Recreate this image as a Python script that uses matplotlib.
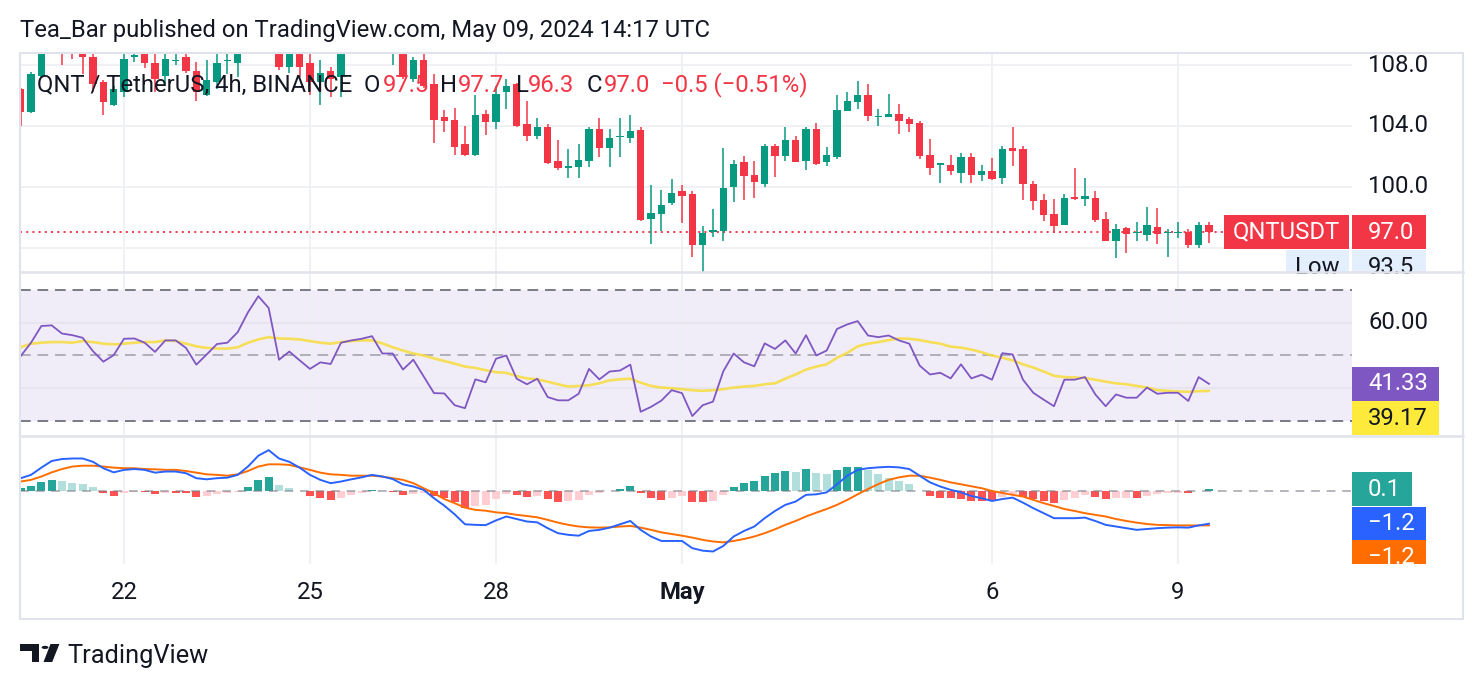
import numpy as np
import matplotlib
matplotlib.use("Agg")
import matplotlib.pyplot as plt
from matplotlib.patches import Rectangle, Polygon, Circle
from matplotlib.lines import Line2D

plt.rcParams['font.family'] = ['Roboto', 'DejaVu Sans']

# 4h candles, Apr 20 08:00 -> May 9 12:00 (UTC)
open_ = [106.4, 104.9, 107.3, 109.2, 109.3, 108.95, 108.8, 108.5, 106.9, 105.4,
         106.2, 108.55, 108.7, 108.1, 107.3, 108.25, 108.5, 107.6, 106.0, 106.9,
         108.25, 108.1, 109.6, 110.6, 111.4, 110.8, 107.9, 109.3, 108.1, 106.9,
         107.6, 107.2, 109.3, 109.6, 109.8, 110.1, 109.2, 109.4, 107.1, 108.3,
         106.75, 104.6, 104.4, 102.8, 102.1, 104.75, 104.25, 106.2, 106.75, 104.1,
         103.3, 103.95, 101.7, 101.25, 101.3, 101.7, 103.8, 102.55, 103.25, 103.2,
         103.7, 97.85, 98.2, 98.9, 99.7, 99.5, 96.15, 97.0, 97.1, 100.0,
         101.6, 100.8, 100.2, 102.65, 102.05, 103.05, 101.7, 103.8, 101.6, 101.95,
         105.0, 105.6, 106.0, 104.55, 104.55, 104.75, 104.45, 104.2, 102.1, 101.45,
         101.45, 100.9, 101.95, 100.8, 101.05, 100.55, 102.55, 102.45, 100.15, 99.1,
         98.2, 97.5, 99.35, 99.2, 99.25, 97.85, 96.4, 97.3, 96.95, 96.8,
         97.35, 96.95, 96.95, 97.05, 96.15, 97.5]
high = [106.5, 107.55, 109.5, 109.8, 109.7, 109.2, 109.1, 108.7, 107.0, 106.6,
        109.0, 109.0, 109.0, 109.0, 109.0, 109.0, 109.0, 108.2, 108.3, 109.0,
        109.0, 110.0, 111.0, 111.8, 111.6, 111.0, 109.6, 109.5, 109.0, 108.3,
        107.9, 109.6, 110.0, 110.2, 110.4, 110.3, 109.8, 109.6, 108.5, 108.7,
        107.4, 105.05, 105.2, 104.0, 106.0, 105.05, 106.65, 107.1, 106.8, 105.65,
        104.5, 104.1, 103.05, 102.45, 102.8, 103.95, 104.5, 103.8, 104.5, 104.7,
        103.95, 100.1, 99.75, 100.5, 100.1, 99.7, 97.4, 98.5, 102.55, 101.75,
        102.05, 101.7, 102.8, 102.8, 103.9, 103.3, 103.95, 104.2, 102.6, 106.0,
        106.2, 106.95, 106.75, 105.1, 106.1, 105.45, 104.55, 104.35, 103.15, 101.55,
        102.1, 102.2, 102.2, 101.45, 101.9, 102.65, 103.95, 102.7, 100.4, 99.55,
        99.2, 99.55, 101.25, 100.55, 99.7, 98.35, 97.55, 97.35, 97.65, 98.65,
        98.6, 97.25, 97.65, 97.25, 97.65, 97.7]
low = [104.0, 104.85, 107.2, 109.0, 108.0, 108.4, 107.4, 106.2, 104.7, 105.3,
       105.9, 108.2, 107.8, 106.2, 106.75, 108.0, 107.5, 105.65, 105.95, 106.4,
       107.4, 107.2, 109.3, 110.3, 110.2, 107.7, 107.5, 107.2, 106.0, 105.4,
       105.9, 105.9, 109.0, 109.2, 108.7, 108.8, 108.0, 107.1, 106.9, 106.5,
       102.9, 103.6, 102.1, 102.05, 102.05, 103.4, 103.8, 105.1, 103.95, 103.0,
       103.15, 101.5, 101.1, 100.6, 100.6, 101.3, 101.95, 101.3, 101.95, 102.9,
       97.75, 96.25, 97.1, 98.8, 97.6, 95.35, 93.5, 96.7, 96.4, 99.0,
       99.1, 99.25, 100.0, 100.65, 101.7, 101.6, 101.1, 101.45, 101.35, 101.8,
       104.95, 105.1, 104.3, 104.0, 104.55, 103.45, 103.6, 101.8, 100.8, 100.25,
       100.8, 100.25, 100.25, 100.35, 100.45, 100.2, 101.35, 99.1, 98.45, 97.75,
       96.95, 97.5, 99.1, 98.7, 97.65, 96.4, 95.3, 95.65, 96.4, 96.45,
       96.2, 95.35, 96.65, 96.0, 95.95, 96.3]
close = [104.9, 107.4, 109.2, 109.3, 108.95, 108.75, 108.5, 106.75, 105.6, 106.4,
         108.4, 108.65, 108.1, 107.1, 108.4, 108.35, 107.6, 106.2, 107.0, 108.1,
         108.35, 109.6, 110.6, 111.4, 110.8, 107.9, 109.3, 107.9, 106.9, 107.5,
         107.1, 109.3, 109.6, 109.8, 110.1, 109.3, 109.4, 107.2, 108.3, 106.6,
         104.4, 104.3, 102.6, 102.1, 104.7, 104.25, 106.1, 106.6, 104.0, 103.3,
         103.9, 101.55, 101.2, 101.35, 101.75, 103.8, 102.55, 103.2, 103.35, 103.65,
         97.8, 98.25, 98.8, 99.6, 99.4, 96.15, 96.95, 97.15, 99.9, 101.5,
         100.7, 100.3, 102.65, 102.05, 103.05, 101.6, 103.8, 101.5, 102.1, 105.05,
         105.65, 106.0, 104.65, 104.65, 104.75, 104.3, 104.1, 102.0, 101.25, 101.55,
         101.0, 101.95, 100.8, 101.05, 100.5, 102.5, 102.35, 100.15, 99.05, 98.15,
         97.4, 99.25, 99.2, 99.4, 97.8, 96.4, 97.25, 96.9, 97.05, 97.5,
         96.9, 97.0, 97.05, 96.15, 97.5, 97.0]

rsi = [49.8, 53.9, 59.0, 59.2, 56.7, 56.2, 55.4, 51.3, 48.1, 50.1,
       55.1, 55.2, 53.9, 51.1, 54.6, 54.6, 52.3, 47.2, 50.3, 53.5,
       53.9, 57.1, 63.2, 68.1, 64.5, 48.7, 51.2, 48.5, 45.9, 47.9,
       47.4, 53.9, 54.6, 55.1, 55.9, 50.6, 50.6, 45.7, 48.7, 43.6,
       38.5, 38.4, 34.8, 33.9, 42.7, 41.8, 49.0, 50.0, 42.9, 41.2,
       42.9, 37.3, 36.3, 36.3, 38.3, 45.9, 42.7, 45.1, 45.4, 47.2,
       32.8, 34.3, 36.2, 39.4, 38.5, 31.5, 34.8, 35.9, 45.2, 50.6,
       47.9, 46.7, 53.7, 52.0, 54.6, 50.6, 56.2, 50.0, 51.5, 58.1,
       59.5, 60.5, 56.1, 55.6, 56.1, 54.6, 53.6, 46.9, 44.2, 44.7,
       43.0, 47.3, 43.0, 44.1, 42.6, 50.7, 50.3, 42.6, 38.6, 36.5,
       34.5, 42.6, 42.6, 43.4, 38.1, 34.5, 38.1, 37.1, 37.1, 40.2,
       38.3, 38.6, 38.6, 36.1, 43.4, 41.33]
rsi_ma = [52.5, 53.6, 53.9, 54.1, 54.1, 53.9, 54.4, 54.1, 53.6, 53.4,
          53.6, 53.9, 54.1, 54.1, 54.6, 54.4, 53.6, 52.8, 52.3, 52.1,
          52.1, 52.5, 53.9, 54.9, 55.6, 55.2, 55.1, 54.9, 54.4, 53.9,
          53.6, 54.1, 54.4, 54.6, 54.6, 53.7, 52.5, 51.5, 50.6, 50.0,
          49.1, 48.3, 47.5, 46.6, 46.2, 45.5, 44.9, 44.7, 43.7, 43.0,
          42.7, 42.0, 41.2, 40.5, 40.7, 40.9, 41.5, 42.4, 42.7, 42.9,
          41.7, 40.7, 40.2, 40.0, 39.7, 39.4, 39.2, 39.4, 39.7, 40.2,
          40.5, 40.7, 41.2, 41.5, 42.9, 44.2, 45.7, 46.6, 47.3, 49.3,
          50.8, 52.8, 53.6, 54.1, 54.7, 55.2, 55.1, 54.7, 54.1, 53.6,
          52.7, 52.4, 51.8, 51.0, 50.0, 49.3, 48.5, 47.3, 46.3, 45.1,
          43.8, 43.4, 43.3, 43.1, 42.6, 42.0, 41.5, 41.2, 40.7, 40.2,
          39.4, 39.2, 39.0, 38.9, 39.1, 39.17]

macd = [0.46, 0.58, 0.84, 1.08, 1.15, 1.17, 1.17, 1.05, 0.82, 0.67,
        0.76, 0.79, 0.76, 0.66, 0.70, 0.70, 0.64, 0.46, 0.42, 0.46,
        0.48, 0.58, 0.88, 1.27, 1.47, 1.17, 1.05, 0.84, 0.58, 0.40,
        0.28, 0.34, 0.42, 0.49, 0.58, 0.52, 0.43, 0.24, 0.16, 0.04,
        -0.26, -0.53, -0.84, -1.20, -1.22, -1.23, -1.06, -0.92, -1.01, -1.10,
        -1.13, -1.34, -1.52, -1.58, -1.61, -1.44, -1.40, -1.32, -1.20, -1.08,
        -1.40, -1.64, -1.80, -1.80, -1.80, -2.06, -2.15, -2.18, -1.98, -1.64,
        -1.44, -1.28, -0.98, -0.72, -0.50, -0.38, -0.14, -0.12, -0.05, 0.24,
        0.55, 0.76, 0.82, 0.85, 0.87, 0.85, 0.79, 0.55, 0.31, 0.16,
        0.04, -0.05, -0.18, -0.26, -0.36, -0.29, -0.24, -0.42, -0.62, -0.80,
        -0.98, -0.98, -0.98, -0.96, -1.08, -1.22, -1.28, -1.34, -1.40, -1.37,
        -1.34, -1.32, -1.31, -1.32, -1.24, -1.18]
signal = [0.34, 0.40, 0.52, 0.67, 0.79, 0.88, 0.91, 0.91, 0.88, 0.84,
          0.82, 0.82, 0.79, 0.78, 0.76, 0.76, 0.72, 0.66, 0.60, 0.58,
          0.55, 0.60, 0.72, 0.88, 0.96, 0.96, 0.94, 0.85, 0.76, 0.66,
          0.60, 0.58, 0.55, 0.55, 0.55, 0.52, 0.46, 0.40, 0.28, 0.10,
          -0.08, -0.29, -0.44, -0.60, -0.68, -0.71, -0.77, -0.80, -0.86, -0.90,
          -0.95, -1.04, -1.14, -1.22, -1.28, -1.31, -1.32, -1.31, -1.28, -1.26,
          -1.32, -1.40, -1.49, -1.55, -1.61, -1.68, -1.76, -1.82, -1.85, -1.80,
          -1.73, -1.64, -1.52, -1.38, -1.22, -1.08, -0.92, -0.78, -0.65, -0.50,
          -0.32, -0.12, 0.07, 0.25, 0.40, 0.49, 0.55, 0.55, 0.48, 0.40,
          0.31, 0.24, 0.17, 0.10, 0.00, -0.07, -0.14, -0.20, -0.32, -0.44,
          -0.54, -0.65, -0.72, -0.80, -0.86, -0.92, -1.01, -1.08, -1.14, -1.19,
          -1.22, -1.23, -1.24, -1.24, -1.24, -1.24]

date_pos = [10, 28, 46, 64, 94, 112]
date_labels = ['22', '25', '28', 'May', '6', '9']

UP, DOWN = '#089981', '#f23645'
TXT = '#131722'
GRID = '#eef0f4'
BORDER = '#e0e3eb'
FS = 17.2

W, H = 1484, 690
fig = plt.figure(figsize=(W / 100, H / 100), dpi=100)
fig.patch.set_facecolor('white')


def px_axes(x0, y0, x1, y1):
    a = fig.add_axes([x0 / W, 1 - y1 / H, (x1 - x0) / W, (y1 - y0) / H])
    a.set_facecolor('none')
    for s in a.spines.values():
        s.set_visible(False)
    a.tick_params(length=0, labelleft=False, labelbottom=False)
    return a


def fp(x, y):
    return (x / W, 1 - y / H)


idx = np.arange(len(close))
o, h, l, c = map(np.array, (open_, high, low, close))
xlim = (-0.065, 128.84)

ax_p = px_axes(20, 53, 1352, 272)
ax_r = px_axes(20, 272, 1352, 436)
ax_m = px_axes(20, 436, 1352, 564)
side_p = px_axes(1352, 53, 1463, 272)
side_r = px_axes(1352, 272, 1463, 436)
side_m = px_axes(1352, 436, 1463, 564)

for a in (ax_p, ax_r, ax_m):
    a.set_xlim(*xlim)
    a.set_xticks(date_pos)
    a.grid(True, axis='x', color=GRID, lw=1.3, zorder=0)
    a.set_axisbelow(True)

# price pane
ax_p.set_ylim(94.39, 108.79)
ax_p.set_yticks([96, 100, 104, 108])
ax_p.grid(True, axis='y', color=GRID, lw=1.3)
cols = np.where(c >= o, UP, DOWN)
ax_p.vlines(idx, l, h, colors=cols, lw=1.1, zorder=2)
ax_p.bar(idx, np.maximum(np.abs(c - o), 0.08), bottom=np.minimum(o, c),
         width=0.68, color=cols, lw=0, zorder=3)
ax_p.axhline(close[-1], xmin=0, xmax=0.904, color=DOWN, lw=1.4,
             ls=(0, (1, 2.2)), zorder=1)

# RSI pane
ax_r.set_ylim(25.4, 75.5)
ax_r.set_yticks([40, 60])
ax_r.grid(True, axis='y', color='#e6e2ef', lw=1.3)
ax_r.axhspan(30, 70, color='#7e57c2', alpha=0.1, lw=0, zorder=0)
for lvl, al in ((70, 1.0), (50, 0.55), (30, 1.0)):
    ax_r.axhline(lvl, color='#787b86', alpha=al, lw=1.4, ls=(0, (5.5, 3.5)))
ax_r.plot(idx, rsi_ma, color='#f7dc3c', lw=1.9, alpha=0.85, zorder=3)
ax_r.plot(idx, rsi, color='#7e57c2', lw=1.3, zorder=4)

# MACD pane
ax_m.set_ylim(-2.63, 1.98)
hist = [m - s for m, s in zip(macd, signal)]
hcols = []
for i, v in enumerate(hist):
    prev = hist[i - 1] if i > 0 else 0
    if v >= 0:
        hcols.append('#26a69a' if v > prev else '#b2dfdb')
    else:
        hcols.append('#ffcdd2' if v > prev else '#ff5252')
ax_m.bar(idx, hist, width=0.75, color=hcols, lw=0, zorder=2)
ax_m.axhline(0, color='#787b86', alpha=0.55, lw=1.4, ls=(0, (4.5, 3.5)), zorder=3)
ax_m.plot(idx, signal, color='#ff6d00', lw=1.4, zorder=4)
ax_m.plot(idx, macd, color='#2962ff', lw=1.4, zorder=5)
ax_m.tick_params(labelbottom=True, pad=12, labelsize=FS, labelcolor=TXT)
ax_m.set_xticklabels(date_labels)
for t in ax_m.get_xticklabels():
    if t.get_text() == 'May':
        t.set_fontweight('bold')

# right-hand scale labels
for a, lim in ((side_p, ax_p.get_ylim()), (side_r, ax_r.get_ylim()), (side_m, ax_m.get_ylim())):
    a.set_xlim(0, 111)
    a.set_ylim(*lim)


def side_label(a, v, text, bg, fg, width, shift=0, hpx=34):
    k = (a.get_ylim()[1] - a.get_ylim()[0]) / a.bbox.height
    yc = v - shift * k
    a.add_patch(Rectangle((0, yc - hpx / 2 * k), width, hpx * k, color=bg, lw=0))
    a.text(16, yc, text, color=fg, va='center', ha='left', fontsize=FS)


for v in (100, 104, 108):
    side_p.text(16, v, f'{v:.1f}', color=TXT, va='center', ha='left', fontsize=FS)
side_label(side_p, close[-1], f'{close[-1]:.1f}', DOWN, 'white', 74)
side_label(side_p, close[-1], f'{min(low):.1f}', '#e3effd', TXT, 74, shift=35)
ax_p.add_patch(Rectangle((0.9039, close[-1] - 17 / 15.21), 0.0938, 34 / 15.21,
                         transform=ax_p.get_yaxis_transform(), color=DOWN, lw=0,
                         zorder=6, clip_on=False))
ax_p.text(0.9508, close[-1], 'QNTUSDT', transform=ax_p.get_yaxis_transform(),
          color='white', ha='center', va='center', fontsize=FS, zorder=7)
ax_p.add_patch(Rectangle((0.9504, close[-1] - 52 / 15.21), 0.0473, 34 / 15.21,
                         transform=ax_p.get_yaxis_transform(), color='#e3effd', lw=0,
                         zorder=6))
ax_p.text(0.974, close[-1] - 35 / 15.21, 'Low', transform=ax_p.get_yaxis_transform(),
          color=TXT, ha='center', va='center', fontsize=FS, zorder=7)

side_r.text(16, 60, '60.00', color=TXT, va='center', ha='left', fontsize=FS)
side_label(side_r, rsi[-1], f'{rsi[-1]:.2f}', '#7e57c2', 'white', 87)
side_label(side_r, rsi[-1], f'{rsi_ma[-1]:.2f}', '#fdea3b', TXT, 87, shift=34.5)

side_label(side_m, hist[-1], f'{hist[-1]:.1f}', '#26a69a', 'white', 60)
side_label(side_m, macd[-1], f'{macd[-1]:.1f}'.replace('-', '\u2212'), '#2962ff', 'white', 74)
side_label(side_m, macd[-1], f'{signal[-1]:.1f}'.replace('-', '\u2212'), '#ff6d00', 'white', 74, shift=33.5)

# frame and pane separators
fig.add_artist(Rectangle(fp(20, 619), 1443 / W, 566 / H, transform=fig.transFigure,
                         fill=False, edgecolor=BORDER, lw=1.5))
for yy in (272, 436):
    fig.add_artist(Line2D([20 / W, 1463 / W], [1 - yy / H] * 2, transform=fig.transFigure,
                          color=BORDER, lw=1.8))

# header text
fig.text(20 / W, 1 - 31 / H, 'Tea_Bar published on TradingView.com, May 09, 2024 14:17 UTC',
         fontsize=FS, color=TXT, va='center')
legend = [(37, 'QNT / TetherUS, 4h, BINANCE', TXT),
          (364, 'O', TXT), (383, f'{open_[-1]:.1f}', DOWN),
          (440, 'H', TXT), (458, f'{high[-1]:.1f}', DOWN),
          (516, 'L', TXT), (528, f'{low[-1]:.1f}', DOWN),
          (587, 'C', TXT), (604, f'{close[-1]:.1f}', DOWN),
          (661, '\u22120.5 (\u22120.51%)', DOWN)]
for x, s, col in legend:
    fig.text(x / W, 1 - 85 / H, s, fontsize=FS, color=col, va='center', zorder=10)

# TradingView logo
LOGO = '#131722'
fig.add_artist(Polygon([fp(20, 644), fp(39.3, 644), fp(39.3, 662), fp(31.7, 662),
                        fp(31.7, 650.7), fp(20, 650.7)], closed=True,
                       transform=fig.transFigure, color=LOGO, lw=0))
fig.add_artist(Circle(fp(45, 647.4), 3.4 / W, transform=fig.transFigure, color=LOGO, lw=0))
fig.add_artist(Polygon([fp(50.5, 644), fp(59.4, 644), fp(52.2, 662), fp(43.5, 662)],
                       closed=True, transform=fig.transFigure, color=LOGO, lw=0))
fig.text(67 / W, 1 - 656 / H, 'TradingView', fontsize=18.3, color=LOGO, va='center')

fig.savefig('out.png', dpi=100, facecolor='white')
